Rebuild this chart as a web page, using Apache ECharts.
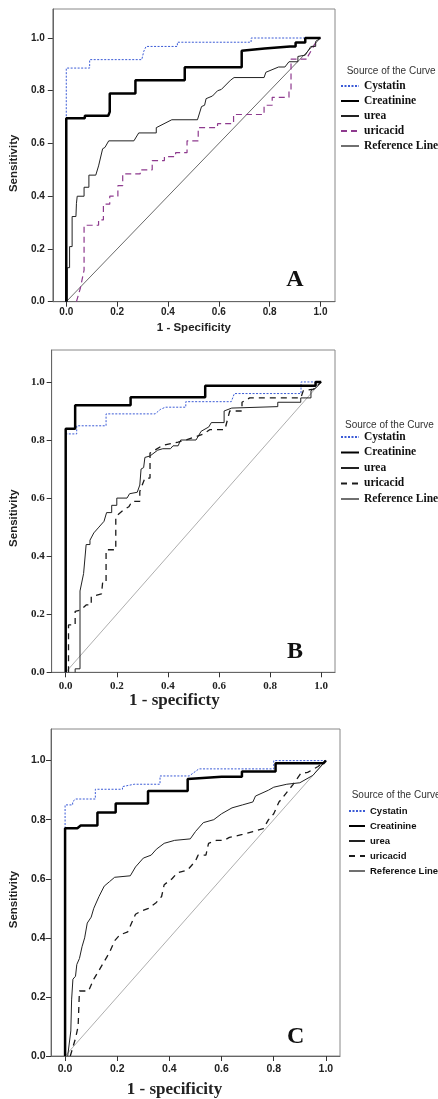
<!DOCTYPE html>
<html><head><meta charset="utf-8">
<script src="https://cdn.jsdelivr.net/npm/echarts@6.0.0/dist/echarts.min.js"></script>
<style>html,body{margin:0;padding:0;background:#fff}#c{width:438px;height:1099px}</style>
</head><body><div id="c"></div>
<script>
// ---------- data ----------
const seriesNames = ['Cystatin', 'Creatinine', 'urea', 'uricacid', 'Reference Line'];
const panelLetters = ['A', 'B', 'C'];
const xTitles = ['1 - Specificity', '1 - specificty', '1 - specificity'];
const yTitle = 'Sensitivity';
const legendTitle = 'Source of the Curve';
const tickValues = [0, 0.2, 0.4, 0.6, 0.8, 1.0];
const referenceLine = [[0, 0], [1, 1]];

const cystatinA = [[0,0],[0,0.70],[0,0.886],[0.092,0.886],[0.092,0.918],[0.297,0.918],[0.305,0.95],[0.314,0.968],[0.437,0.968],[0.437,0.984],[0.727,0.984],[0.727,1.0],[1,1]];
const creatinineA = [[0,0],[0,0.696],[0.073,0.696],[0.073,0.705],[0.165,0.705],[0.171,0.72],[0.171,0.79],[0.272,0.79],[0.272,0.84],[0.466,0.84],[0.466,0.889],[0.69,0.889],[0.69,0.952],[0.78,0.96],[0.88,0.968],[0.902,0.968],[0.902,0.983],[0.94,0.983],[0.94,1.0],[1,1]];
const ureaA = [[0.004,0],[0.004,0.129],[0.013,0.129],[0.013,0.209],[0.023,0.209],[0.023,0.323],[0.038,0.323],[0.04,0.373],[0.043,0.40],[0.07,0.40],[0.07,0.434],[0.089,0.434],[0.089,0.48],[0.116,0.48],[0.127,0.515],[0.143,0.58],[0.152,0.585],[0.167,0.61],[0.266,0.61],[0.285,0.64],[0.354,0.64],[0.354,0.66],[0.415,0.69],[0.516,0.69],[0.532,0.74],[0.544,0.745],[0.55,0.77],[0.575,0.78],[0.595,0.80],[0.61,0.805],[0.646,0.84],[0.66,0.85],[0.778,0.85],[0.785,0.87],[0.835,0.89],[0.86,0.89],[0.876,0.91],[0.911,0.91],[0.911,0.93],[0.94,0.935],[0.962,0.968],[0.981,0.968],[0.981,0.987],[1,1]];
const uricacidA = [[0.04,0],[0.055,0.05],[0.07,0.12],[0.07,0.29],[0.127,0.29],[0.127,0.31],[0.146,0.31],[0.146,0.37],[0.171,0.37],[0.171,0.40],[0.203,0.40],[0.203,0.44],[0.222,0.44],[0.222,0.485],[0.291,0.485],[0.291,0.50],[0.338,0.50],[0.338,0.535],[0.386,0.535],[0.386,0.55],[0.43,0.55],[0.43,0.565],[0.475,0.565],[0.475,0.61],[0.519,0.61],[0.519,0.66],[0.595,0.66],[0.595,0.675],[0.658,0.675],[0.658,0.71],[0.778,0.71],[0.778,0.745],[0.81,0.745],[0.81,0.775],[0.876,0.775],[0.876,0.80],[0.884,0.80],[0.884,0.92],[0.95,0.92],[0.95,0.93],[0.98,0.98],[0.98,1.0],[1,1]];

const cystatinB = [[0,0],[0,0.821],[0.043,0.821],[0.043,0.849],[0.158,0.849],[0.158,0.89],[0.35,0.89],[0.37,0.905],[0.39,0.913],[0.47,0.913],[0.47,0.932],[0.648,0.932],[0.66,0.96],[0.921,0.96],[0.921,1.0],[0.978,1.0],[1,1]];
const creatinineB = [[0,0],[0,0.839],[0.037,0.839],[0.037,0.92],[0.254,0.92],[0.254,0.947],[0.546,0.947],[0.546,0.987],[0.978,0.987],[0.978,1.0],[1,1]];
const ureaB = [[0.037,0],[0.037,0.012],[0.056,0.012],[0.056,0.28],[0.07,0.34],[0.08,0.44],[0.095,0.44],[0.095,0.455],[0.11,0.48],[0.13,0.50],[0.15,0.52],[0.16,0.55],[0.18,0.55],[0.18,0.575],[0.2,0.575],[0.2,0.60],[0.24,0.60],[0.25,0.615],[0.28,0.62],[0.29,0.645],[0.295,0.70],[0.305,0.705],[0.31,0.74],[0.33,0.745],[0.36,0.765],[0.38,0.77],[0.41,0.77],[0.42,0.78],[0.44,0.78],[0.45,0.80],[0.51,0.80],[0.53,0.83],[0.56,0.845],[0.57,0.86],[0.62,0.86],[0.62,0.90],[0.65,0.91],[0.83,0.915],[0.83,0.93],[0.92,0.93],[0.92,0.945],[0.96,0.945],[0.96,0.97],[0.98,0.98],[1,1]];
const uricacidB = [[0.011,0],[0.011,0.163],[0.037,0.163],[0.037,0.21],[0.06,0.215],[0.08,0.232],[0.1,0.232],[0.1,0.26],[0.14,0.27],[0.145,0.313],[0.158,0.313],[0.158,0.422],[0.196,0.422],[0.196,0.537],[0.228,0.56],[0.247,0.57],[0.26,0.589],[0.29,0.589],[0.29,0.623],[0.31,0.669],[0.33,0.669],[0.33,0.755],[0.38,0.782],[0.44,0.793],[0.47,0.80],[0.54,0.821],[0.565,0.836],[0.623,0.836],[0.642,0.90],[0.69,0.90],[0.69,0.93],[0.72,0.945],[0.92,0.945],[0.93,0.97],[0.97,0.975],[1,1]];

const cystatinC = [[0,0],[0,0.777],[0,0.85],[0.029,0.85],[0.029,0.861],[0.041,0.87],[0.116,0.87],[0.116,0.903],[0.22,0.903],[0.22,0.912],[0.265,0.92],[0.364,0.92],[0.364,0.948],[0.476,0.948],[0.513,0.972],[0.8,0.972],[0.8,1.0],[1,1]];
const creatinineC = [[0,0],[0,0.771],[0.047,0.771],[0.06,0.78],[0.124,0.78],[0.124,0.824],[0.194,0.824],[0.194,0.855],[0.318,0.855],[0.318,0.897],[0.47,0.897],[0.47,0.938],[0.6,0.945],[0.678,0.945],[0.678,0.963],[0.807,0.963],[0.807,0.991],[0.99,0.991],[1,1]];
const ureaC = [[0.01,0],[0.022,0.085],[0.025,0.19],[0.03,0.26],[0.04,0.27],[0.045,0.31],[0.055,0.33],[0.065,0.37],[0.075,0.40],[0.085,0.45],[0.1,0.47],[0.11,0.50],[0.13,0.54],[0.15,0.575],[0.17,0.59],[0.19,0.605],[0.25,0.61],[0.27,0.64],[0.3,0.67],[0.33,0.68],[0.35,0.70],[0.38,0.72],[0.42,0.73],[0.48,0.735],[0.5,0.76],[0.53,0.79],[0.57,0.80],[0.6,0.82],[0.64,0.84],[0.68,0.85],[0.72,0.86],[0.73,0.88],[0.78,0.90],[0.8,0.91],[0.85,0.92],[0.9,0.925],[0.95,0.95],[1,1]];
const uricacidC = [[0.02,0],[0.04,0.06],[0.05,0.10],[0.055,0.22],[0.09,0.22],[0.1,0.24],[0.11,0.26],[0.13,0.29],[0.15,0.32],[0.17,0.35],[0.19,0.39],[0.21,0.41],[0.24,0.42],[0.25,0.44],[0.27,0.48],[0.29,0.49],[0.32,0.50],[0.35,0.52],[0.37,0.54],[0.38,0.58],[0.41,0.60],[0.43,0.62],[0.47,0.63],[0.5,0.66],[0.51,0.68],[0.54,0.68],[0.55,0.72],[0.58,0.73],[0.61,0.73],[0.63,0.74],[0.68,0.75],[0.72,0.76],[0.76,0.77],[0.78,0.80],[0.8,0.82],[0.82,0.86],[0.83,0.87],[0.873,0.918],[0.904,0.957],[0.93,0.96],[0.97,0.98],[1,1]];

// ---------- layout & styles ----------
const panelSeries = [
  [cystatinA, creatinineA, ureaA, uricacidA, referenceLine],
  [cystatinB, creatinineB, ureaB, uricacidB, referenceLine],
  [cystatinC, creatinineC, ureaC, uricacidC, referenceLine]
];
const SANS = 'Liberation Sans, Arial, sans-serif';
const SERIF = 'Liberation Serif, Times New Roman, serif';
const layout = [
  { left:42.7, top:9, width:292.3, height:292.7, xMin:-0.053, xMax:1.057, yMax:1.11,
    tickFont:SANS, tickSize:10, xLabelMargin:6, yLabelMargin:8,
    xTitleFont:SANS, xTitleSize:11.5, xNameGap:20, xNamePad:[0,0,0,0], yNameGap:19, yNamePad:[0,16,0,0],
    legLeft:340, legTop:80, legFont:SERIF, legSize:11.5, legWeight:'bold', legIcon:18, legGap:3,
    titleX:346.7, titleY:71, letterX:295, letterY:280,
    uric:{color:'#8e3a8e', width:1.2, type:[6,4]}, refColor:'#444' },
  { left:44.3, top:350, width:290.7, height:322.3, xMin:-0.055, xMax:1.054, yMax:1.11,
    tickFont:SERIF, tickSize:11, xLabelMargin:8, yLabelMargin:7,
    xTitleFont:SERIF, xTitleSize:17, xNameGap:19, xNamePad:[0,38,0,0], yNameGap:17, yNamePad:[0,14,0,0],
    legLeft:340, legTop:431, legFont:SERIF, legSize:11.5, legWeight:'bold', legIcon:18, legGap:3.5,
    titleX:345, titleY:425, letterX:295, letterY:651.7,
    uric:{color:'#1a1a1a', width:1.3, type:[6,5]}, refColor:'#999' },
  { left:42.7, top:729, width:297.3, height:327.7, xMin:-0.054, xMax:1.054, yMax:1.107,
    tickFont:SANS, tickSize:10.5, xLabelMargin:8, yLabelMargin:5.5,
    xTitleFont:SERIF, xTitleSize:17, xNameGap:25, xNamePad:[0,42,0,0], yNameGap:19, yNamePad:[0,14,0,0],
    legLeft:348, legTop:805, legFont:SANS, legSize:9.5, legWeight:'bold', legIcon:16, legGap:3,
    titleX:351.7, titleY:795, letterX:295.7, letterY:1036.7,
    uric:{color:'#1a1a1a', width:1.3, type:[6,5]}, refColor:'#999' }
];

const grids = [], xAxes = [], yAxes = [], series = [], legends = [], graphics = [];
layout.forEach((L, i) => {
  grids.push({ left:L.left, top:L.top, width:L.width, height:L.height, show:true,
    borderColor:'#888', borderWidth:1, backgroundColor:'transparent' });
  xAxes.push({ gridIndex:i, type:'value', min:L.xMin, max:L.xMax,
    axisLine:{ show:true, onZero:false, lineStyle:{ color:'#666', width:1 } },
    axisTick:{ show:true, inside:false, length:5, customValues:tickValues, lineStyle:{ color:'#333' } },
    axisLabel:{ customValues:tickValues, formatter:v => v.toFixed(1), margin:L.xLabelMargin,
      fontFamily:L.tickFont, fontSize:L.tickSize, fontWeight:'bold', color:'#222' },
    splitLine:{ show:false },
    name:xTitles[i], nameLocation:'middle', nameGap:L.xNameGap,
    nameTextStyle:{ fontFamily:L.xTitleFont, fontSize:L.xTitleSize, fontWeight:'bold', color:'#222', padding:L.xNamePad } });
  yAxes.push({ gridIndex:i, type:'value', min:0, max:L.yMax,
    axisLine:{ show:true, onZero:false, lineStyle:{ color:'#666', width:1 } },
    axisTick:{ show:true, inside:false, length:5, customValues:tickValues, lineStyle:{ color:'#333' } },
    axisLabel:{ customValues:tickValues, formatter:v => v.toFixed(1), margin:L.yLabelMargin,
      fontFamily:L.tickFont, fontSize:L.tickSize, fontWeight:'bold', color:'#222' },
    splitLine:{ show:false },
    name:yTitle, nameLocation:'middle', nameGap:L.yNameGap,
    nameTextStyle:{ fontFamily:SANS, fontSize:11.5, fontWeight:'bold', color:'#222', padding:L.yNamePad } });

  const styles = [
    { color:'#3b5bd6', width:1, type:[2,1.5] },
    { color:'#000', width:2.5, type:'solid' },
    { color:'#222', width:1, type:'solid' },
    L.uric,
    { color:L.refColor, width:0.8, type:'solid' }
  ];
  const order = [4, 3, 2, 0, 1];
  order.forEach(k => {
    series.push({ type:'line', name:seriesNames[k] + '#' + i, xAxisIndex:i, yAxisIndex:i,
      data:panelSeries[i][k], symbol:'none', showSymbol:false, animation:false, silent:true,
      lineStyle:styles[k], itemStyle:{ color:styles[k].color }, z: 2 + (k === 1 ? 3 : k === 0 ? 2 : 0) });
  });
  legends.push({ orient:'vertical', left:L.legLeft, top:L.legTop, padding:0,
    itemWidth:L.legIcon, itemHeight:10, itemGap:L.legGap, selectedMode:false,
    itemStyle:{ opacity:0, borderWidth:0 },
    data:seriesNames.map((n, k) => k === 4
      ? { name:n + '#' + i, lineStyle:{ color:'#222', width:1.3 } }
      : { name:n + '#' + i }),
    formatter:n => n.split('#')[0],
    textStyle:{ fontFamily:L.legFont, fontSize:L.legSize, fontWeight:L.legWeight, color:'#111', lineHeight:12 } });
  graphics.push({ type:'text', x:L.titleX, y:L.titleY,
    style:{ text:legendTitle, font:'normal 10px ' + SANS, fill:'#333', textAlign:'left', textVerticalAlign:'middle' } });
  graphics.push({ type:'text', x:L.letterX, y:L.letterY,
    style:{ text:panelLetters[i], font:'bold 24px ' + SERIF, fill:'#111', textAlign:'center', textVerticalAlign:'middle' } });
});

const chart = echarts.init(document.getElementById('c'), null, { renderer:'canvas' });
chart.setOption({
  backgroundColor:'#fff', animation:false,
  grid:grids, xAxis:xAxes, yAxis:yAxes, series:series, legend:legends, graphic:graphics
});
</script>
</body></html>
